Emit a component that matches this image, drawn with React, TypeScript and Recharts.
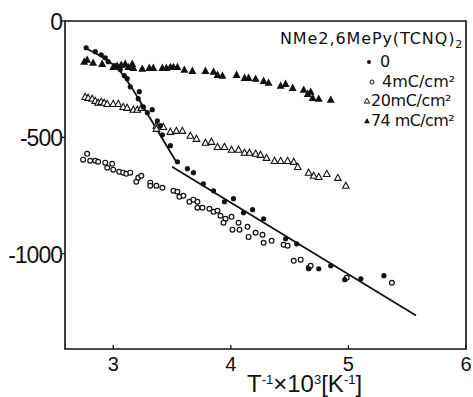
import { ScatterChart, Scatter, XAxis, YAxis, ReferenceArea } from "recharts";

// axis ticks
const xTicks = [3, 4, 5, 6];
const yTicks = [0, -500, -1000];

// series: [T^-1 x 10^3, value]
const dose0 = [
  [2.77, -115], [2.847, -132], [2.898, -145], [2.932, -158], [2.957, -175], [3.017, -192],
  [3.06, -209], [3.094, -235], [3.119, -248], [3.145, -283], [3.222, -304], [3.213, -334],
  [3.256, -369], [3.29, -394], [3.332, -381], [3.375, -429], [3.401, -450], [3.418, -489],
  [3.486, -536], [3.546, -605], [3.631, -635], [3.682, -652], [3.767, -700], [3.853, -730],
  [3.946, -777], [4.023, -764], [4.108, -824], [4.185, -811], [4.279, -850], [4.466, -936],
  [4.56, -958], [4.662, -1065], [4.748, -1065], [4.85, -1052], [4.969, -1112], [5.106, -1108],
  [5.302, -1095],
];

const dose4 = [
  [2.744, -596], [2.778, -571], [2.804, -601], [2.847, -601], [2.872, -605], [2.932, -609],
  [2.949, -631], [2.991, -614], [3.0, -639], [3.051, -648], [3.085, -652], [3.111, -657],
  [3.145, -652], [3.196, -691], [3.213, -674], [3.239, -665], [3.315, -695], [3.315, -708],
  [3.367, -708], [3.418, -717], [3.512, -730], [3.546, -734], [3.563, -756], [3.597, -751],
  [3.648, -777], [3.682, -768], [3.716, -777], [3.716, -803], [3.759, -803], [3.818, -807],
  [3.853, -820], [3.887, -816], [3.912, -837], [3.955, -850], [3.938, -867], [4.006, -842],
  [4.066, -867], [4.014, -897], [4.074, -897], [4.142, -885], [4.151, -928], [4.211, -910],
  [4.27, -919], [4.279, -953], [4.347, -945], [4.449, -962], [4.483, -966], [4.535, -1031],
  [4.594, -1026], [4.663, -1061], [4.679, -1052], [4.986, -1104], [5.37, -1125],
];

const dose20 = [
  [2.761, -326], [2.787, -330], [2.821, -334], [2.847, -343], [2.872, -351], [2.898, -347],
  [2.923, -351], [2.949, -356], [3.0, -356], [3.043, -356], [3.085, -369], [3.119, -373],
  [3.171, -381], [3.205, -381], [3.239, -373], [3.367, -450], [3.367, -463], [3.426, -455],
  [3.486, -476], [3.537, -472], [3.588, -472], [3.656, -493], [3.708, -506], [3.784, -523],
  [3.835, -519], [3.887, -541], [3.946, -541], [4.006, -553], [4.066, -553], [4.117, -566],
  [4.159, -566], [4.211, -570], [4.253, -575], [4.304, -588], [4.372, -601], [4.424, -601],
  [4.483, -601], [4.535, -605], [4.569, -627], [4.662, -652], [4.705, -665], [4.748, -670],
  [4.816, -657], [4.91, -674], [4.978, -708],
];

const dose74 = [
  [2.753, -175], [2.778, -166], [2.829, -179], [2.906, -184], [3.0, -197], [3.034, -192],
  [3.068, -188], [3.102, -184], [3.128, -197], [3.162, -184], [3.171, -201], [3.247, -205],
  [3.307, -201], [3.341, -201], [3.418, -201], [3.452, -201], [3.486, -197], [3.512, -197],
  [3.546, -197], [3.605, -209], [3.673, -214], [3.784, -214], [3.853, -218], [3.887, -231],
  [3.929, -235], [4.049, -231], [4.117, -244], [4.151, -244], [4.211, -248], [4.279, -257],
  [4.321, -265], [4.424, -278], [4.466, -270], [4.526, -287], [4.62, -295], [4.654, -313],
  [4.679, -304], [4.696, -330], [4.748, -334], [4.85, -338],
];

// hand-drawn fit lines
const fitSteep = [[2.761, -116], [2.917, -159], [3.06, -217], [3.159, -288], [3.245, -360], [3.546, -614]];
const fitShallow = [[3.5, -627], [5.575, -1266]];

const toPts = (arr: number[][]) => arr.map(([x, y]) => ({ x, y }));

const INK = "#111";
const NUM_FONT = "'Liberation Sans', Arial, sans-serif";
const TXT_FONT = "'DejaVu Sans', Arial, sans-serif";

const tri = (cx: number, cy: number, s: number) =>
  `M${cx},${cy - s} L${cx + s * 0.95},${cy + s * 0.75} L${cx - s * 0.95},${cy + s * 0.75} Z`;

const Dot = (p: any) => <circle cx={p.cx} cy={p.cy} r={2.6} fill={INK} />;
const Ring = (p: any) => <circle cx={p.cx} cy={p.cy} r={2.4} fill="#fff" stroke={INK} strokeWidth={1.2} />;
const OpenTri = (p: any) => <path d={tri(p.cx, p.cy, 3.5)} fill="#fff" stroke={INK} strokeWidth={1.1} />;
const FillTri = (p: any) => <path d={tri(p.cx, p.cy, 4.2)} fill={INK} />;
const Nothing = () => <g />;

function XTick(p: any) {
  return (
    <g>
      <line x1={p.x} x2={p.x} y1={p.y} y2={p.y - 4} stroke={INK} strokeWidth={1.3} />
      <text x={p.x} y={p.y + 22} textAnchor="middle" fontSize={20} fontFamily={NUM_FONT} fill={INK}>
        {p.payload.value}
      </text>
    </g>
  );
}

function YTick(p: any) {
  return (
    <g>
      <line x1={p.x - 3} x2={p.x} y1={p.y} y2={p.y} stroke={INK} strokeWidth={1.3} />
      <text x={p.x - 3} y={p.y + 9} textAnchor="end" fontSize={23} letterSpacing={-1} fontFamily={NUM_FONT} fill={INK}>
        {p.payload.value}
      </text>
    </g>
  );
}

export default function App() {
  return (
    <div style={{ position: "absolute", left: 0, top: 0, width: 473, height: 397, background: "#fff" }}>
      <ScatterChart width={473} height={397} margin={{ top: 21, right: 7, bottom: 47, left: 64 }}>
        <XAxis
          type="number"
          dataKey="x"
          domain={[2.59, 6]}
          allowDataOverflow
          ticks={xTicks}
          interval={0}
          height={1}
          tickSize={0}
          tickMargin={0}
          axisLine={false}
          tickLine={false}
          tick={(p: any) => <XTick {...p} />}
        />
        <YAxis
          type="number"
          dataKey="y"
          domain={[-1410, 0]}
          allowDataOverflow
          ticks={yTicks}
          interval={0}
          width={1}
          tickSize={0}
          tickMargin={0}
          axisLine={false}
          tickLine={false}
          tick={(p: any) => <YTick {...p} />}
        />
        <ReferenceArea x1={2.59} x2={6} y1={-1410} y2={0} fill="none" stroke={INK} strokeWidth={1.6} ifOverflow="visible" />
        <Scatter data={toPts(fitSteep)} line={{ stroke: INK, strokeWidth: 1.8 }} lineJointType="monotoneX" shape={Nothing} isAnimationActive={false} />
        <Scatter data={toPts(fitShallow)} line={{ stroke: INK, strokeWidth: 1.8 }} shape={Nothing} isAnimationActive={false} />
        <Scatter data={toPts(dose4)} shape={Ring} isAnimationActive={false} />
        <Scatter data={toPts(dose20)} shape={OpenTri} isAnimationActive={false} />
        <Scatter data={toPts(dose74)} shape={FillTri} isAnimationActive={false} />
        <Scatter data={toPts(dose0)} shape={Dot} isAnimationActive={false} />
      </ScatterChart>
      <svg width={473} height={397} style={{ position: "absolute", left: 0, top: 0, pointerEvents: "none" }}>
        <text x={280} y={44} fontSize={16} letterSpacing={0.9} fontFamily={TXT_FONT} fill={INK}>
          NMe2,6MePy(TCNQ)<tspan dy={4} fontSize={11}>2</tspan>
        </text>
        <circle cx={369} cy={62} r={2} fill={INK} />
        <text x={380} y={67} fontSize={16} fontFamily={TXT_FONT} fill={INK}>0</text>
        <circle cx={372} cy={82} r={2} fill="#fff" stroke={INK} strokeWidth={1} />
        <text x={382} y={87} fontSize={16} fontFamily={TXT_FONT} fill={INK}>4mC/cm²</text>
        <path d={tri(367, 101, 2.8)} fill="#fff" stroke={INK} strokeWidth={1} />
        <text x={371} y={106} fontSize={16} letterSpacing={-0.4} fontFamily={TXT_FONT} fill={INK}>20mC/cm²</text>
        <path d={tri(367, 121, 3)} fill={INK} />
        <text x={371} y={126} fontSize={16} letterSpacing={-0.6} fontFamily={TXT_FONT} fill={INK}>74 mC/cm²</text>
        <text x={247} y={392} fontSize={24} fontFamily={NUM_FONT} fill={INK}>
          T<tspan dy={-8} fontSize={13}>-1</tspan>
          <tspan dy={8}>×10</tspan>
          <tspan dy={-8} fontSize={13}>3</tspan>
          <tspan dy={8}>[K</tspan>
          <tspan dy={-8} fontSize={13}>-1</tspan>
          <tspan dy={8}>]</tspan>
        </text>
      </svg>
    </div>
  );
}
